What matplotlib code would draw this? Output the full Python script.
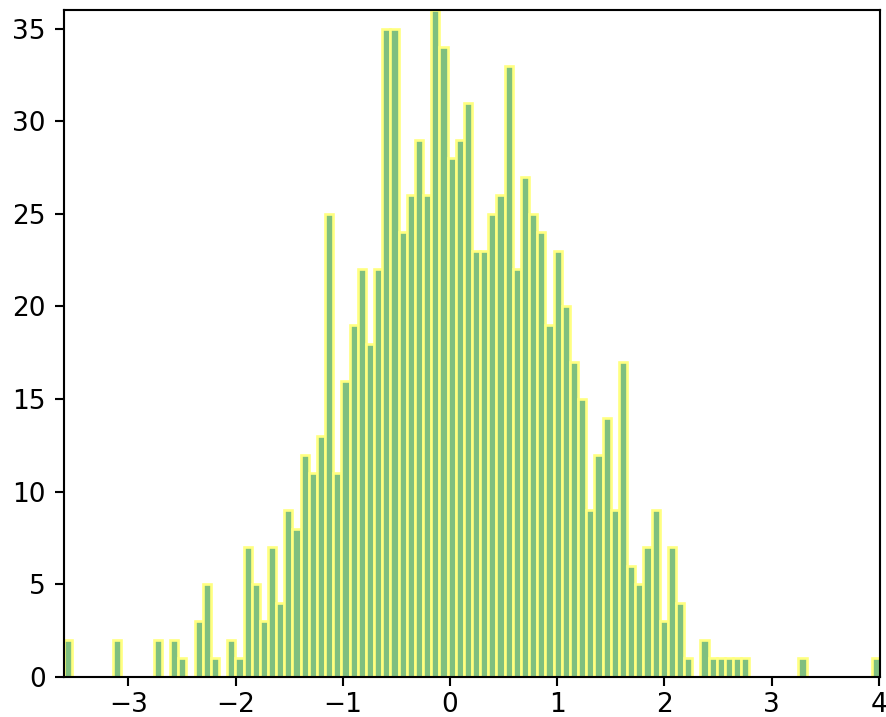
import numpy as np
import matplotlib
matplotlib.use('Agg')
import matplotlib.pyplot as plt

# -------------------------------
# DATA (histogram counts, 100 bins)
# -------------------------------

x_min = -3.60
x_max = 4.01

counts = [
    2, 0, 0, 0, 0, 0, 2, 0, 0, 0,
    0, 2, 0, 2, 1, 0, 3, 5, 1, 0,
    2, 1, 7, 5, 3, 7, 4, 9, 8, 12,
    11, 13, 25, 11, 16, 19, 22, 18, 22, 35,
    35, 24, 26, 29, 26, 36, 34, 28, 29, 31,
    23, 23, 25, 26, 33, 22, 27, 25, 24, 19,
    23, 20, 17, 15, 9, 12, 14, 9, 17, 6,
    5, 7, 9, 3, 7, 4, 1, 0, 2, 1,
    1, 1, 1, 1, 0, 0, 0, 0, 0, 0,
    1, 0, 0, 0, 0, 0, 0, 0, 0, 1,
]

x_ticks = [-3, -2, -1, 0, 1, 2, 3, 4]
y_ticks = [0, 5, 10, 15, 20, 25, 30, 35]

# -------------------------------
# PLOT
# -------------------------------

dpi = 190
fig = plt.figure(figsize=(887 / dpi, 717 / dpi), dpi=dpi)
ax = fig.add_axes([64 / 887, 40 / 717, 816 / 887, 667 / 717])

# green / yellow at half strength, drawn opaque so edges stay pale
edges = np.linspace(x_min, x_max, len(counts) + 1)
ax.hist(edges[:-1], bins=edges, weights=counts,
        facecolor='#7fbf7f', edgecolor='#ffff80', linewidth=1.0)

ax.set_xlim(x_min, x_max)
ax.set_ylim(0, 36)
ax.set_xticks(x_ticks)
ax.set_yticks(y_ticks)
ax.tick_params(axis='x', pad=2.0)

fig.savefig('out.png', dpi=dpi)
